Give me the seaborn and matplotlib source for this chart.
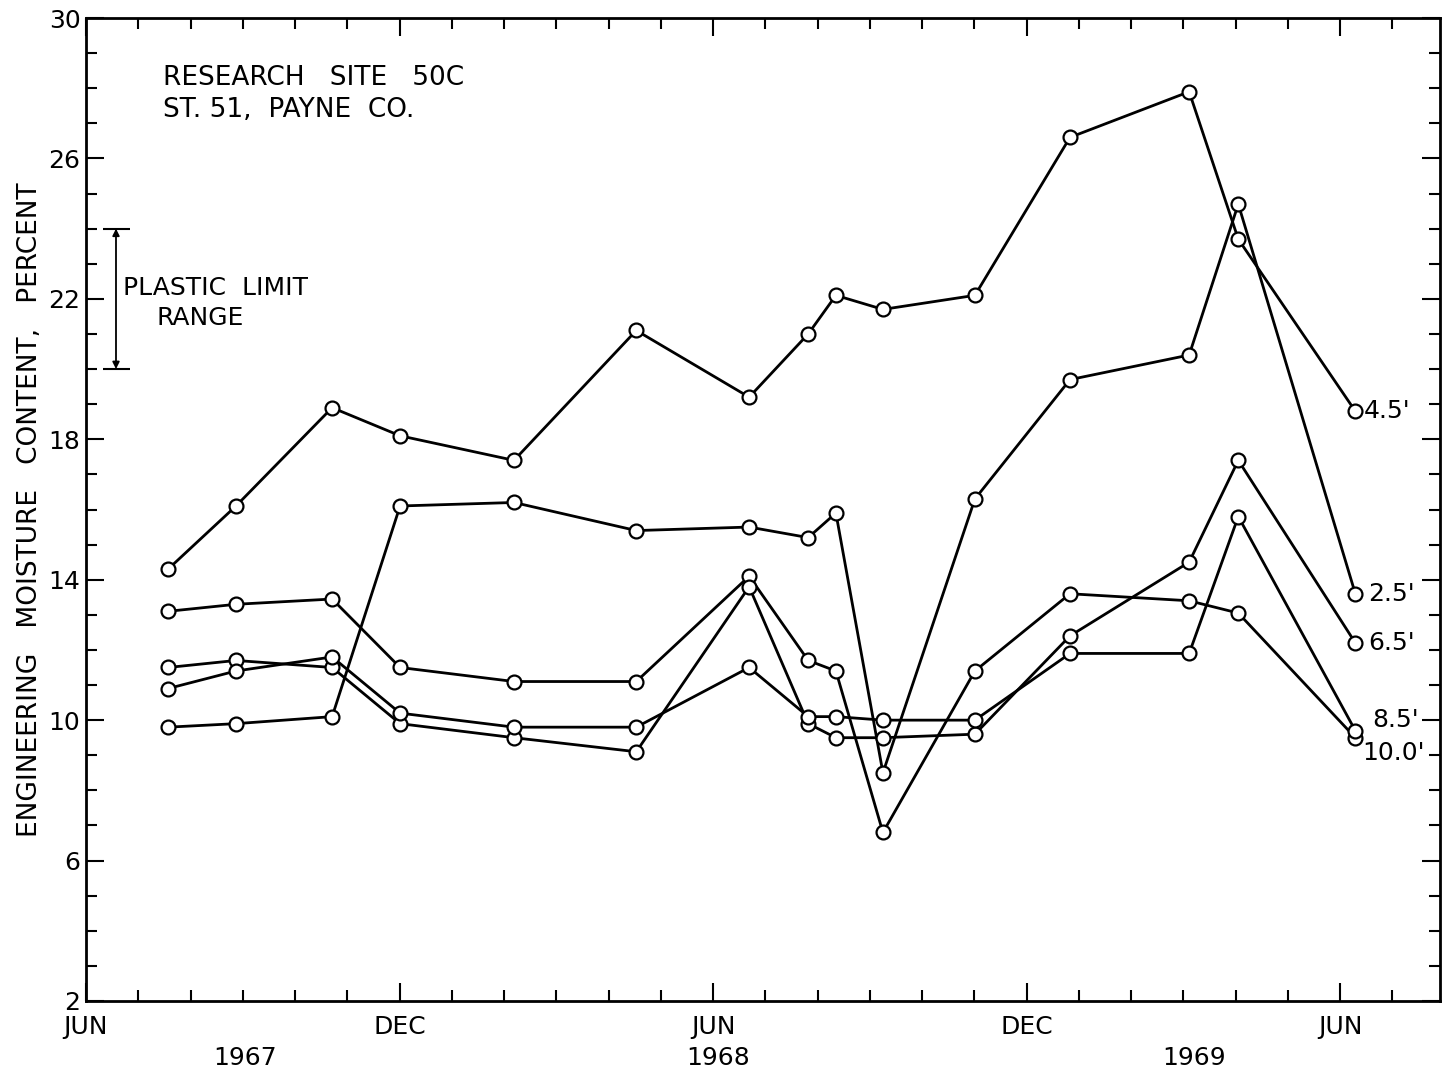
import matplotlib
matplotlib.use("Agg")
import matplotlib.pyplot as plt
from matplotlib.ticker import MultipleLocator, FixedLocator
import seaborn as sns
import pandas as pd

# months elapsed since 1 June 1967
months = [1.57, 2.87, 4.71, 6.01, 8.19, 10.53, 12.69, 13.82, 14.35, 15.25,
          17.01, 18.83, 21.11, 22.05, 24.29]

# moisture content (%) at each depth
d45 = [14.3, 16.1, 18.9, 18.1, 17.4, 21.1, 19.2, 21.0, 22.1, 21.7, 22.1, 26.6, 27.9, 23.7, 18.8]
d25 = [9.8, 9.9, 10.1, 16.1, 16.2, 15.4, 15.5, 15.2, 15.9, 8.5, 16.3, 19.7, 20.4, 24.7, 13.6]
d65 = [11.5, 11.7, 11.5, 9.9, 9.5, 9.1, 13.8, 9.9, 9.5, 9.5, 9.6, 12.4, 14.5, 17.4, 12.2]
d85 = [10.9, 11.4, 11.8, 10.2, 9.8, 9.8, 11.5, 10.1, 10.1, 10.0, 10.0, 11.9, 11.9, 15.8, 9.7]
d100 = [13.1, 13.3, 13.45, 11.5, 11.1, 11.1, 14.1, 11.7, 11.4, 6.8, 11.4, 13.6, 13.4, 13.05, 9.5]

depth_labels = ["4.5'", "2.5'", "6.5'", "8.5'", "10.0'"]
series = [d45, d25, d65, d85, d100]
# label offsets (points) from last point of each curve
label_offsets = [(6, 0), (9, 0), (9, 0), (12, 8), (5, -11)]

month_ticks = [0, 6, 12, 18, 24]
month_names = ["JUN", "DEC", "JUN", "DEC", "JUN"]
years = ["1967", "1968", "1969"]
year_pos = [3.05, 12.1, 21.2]
y_ticks = [2, 6, 10, 14, 18, 22, 26, 30]

df = pd.DataFrame({
    "month": months * len(series),
    "moisture": sum(series, []),
    "depth": [lab for lab in depth_labels for _ in months],
})

sns.set_style("ticks")
plt.rcParams["font.family"] = ["DejaVu Sans"]
plt.rcParams["font.size"] = 18
for key in ["text.color", "axes.labelcolor", "xtick.color", "ytick.color", "axes.edgecolor"]:
    plt.rcParams[key] = "black"

fig = plt.figure(figsize=(14.42, 10.74), dpi=100)
ax = fig.add_axes([86 / 1442, 73 / 1074, (1440 - 86) / 1442, (1001 - 18) / 1074])

sns.lineplot(data=df, x="month", y="moisture", units="depth", estimator=None,
             color="black", linewidth=2.0, marker="o", markersize=10,
             markerfacecolor="white", markeredgecolor="black",
             markeredgewidth=1.6, ax=ax, legend=False)

ax.set_xlim(0, 25.91)
ax.set_ylim(2, 30)

ax.xaxis.set_major_locator(FixedLocator(month_ticks))
ax.set_xticklabels(month_names)
ax.xaxis.set_minor_locator(MultipleLocator(1))
ax.yaxis.set_major_locator(FixedLocator(y_ticks))
ax.yaxis.set_minor_locator(MultipleLocator(1))

ax.tick_params(which="both", direction="in", top=True, right=True,
               width=1.5, labelsize=18)
ax.tick_params(which="major", length=13)
ax.tick_params(which="minor", length=8)
ax.tick_params(axis="x", pad=10)
ax.tick_params(axis="y", pad=4)

for sp in ax.spines.values():
    sp.set_linewidth(2)

ax.set_xlabel("")
ax.set_ylabel("ENGINEERING   MOISTURE   CONTENT,   PERCENT", fontsize=19, labelpad=4)

# year labels under the month labels
for yr, xp in zip(years, year_pos):
    ax.text(xp, -0.058, yr, transform=ax.get_xaxis_transform(),
            ha="center", va="center", fontsize=18)

# depth labels at the end of each curve
for lab, vals, off in zip(depth_labels, series, label_offsets):
    ax.annotate(lab, (months[-1], vals[-1]), xytext=off, textcoords="offset points",
                ha="left", va="center", fontsize=18)

ax.text(1.47, 28.3, "RESEARCH   SITE   50C", ha="left", va="center", fontsize=19)
ax.text(1.47, 27.38, "ST. 51,  PAYNE  CO.", ha="left", va="center", fontsize=19)

# plastic limit range marker
ax.annotate("", xy=(0.574, 24), xytext=(0.574, 20),
            arrowprops=dict(arrowstyle="<|-|>", color="black", lw=1.3,
                            mutation_scale=10, shrinkA=0, shrinkB=0))
ax.hlines([20, 24], 0.33, 0.84, color="black", linewidth=1.5)
ax.text(0.71, 22.3, "PLASTIC  LIMIT", ha="left", va="center", fontsize=18)
ax.text(2.18, 21.45, "RANGE", ha="center", va="center", fontsize=18)

fig.savefig("out.png", dpi=100)
